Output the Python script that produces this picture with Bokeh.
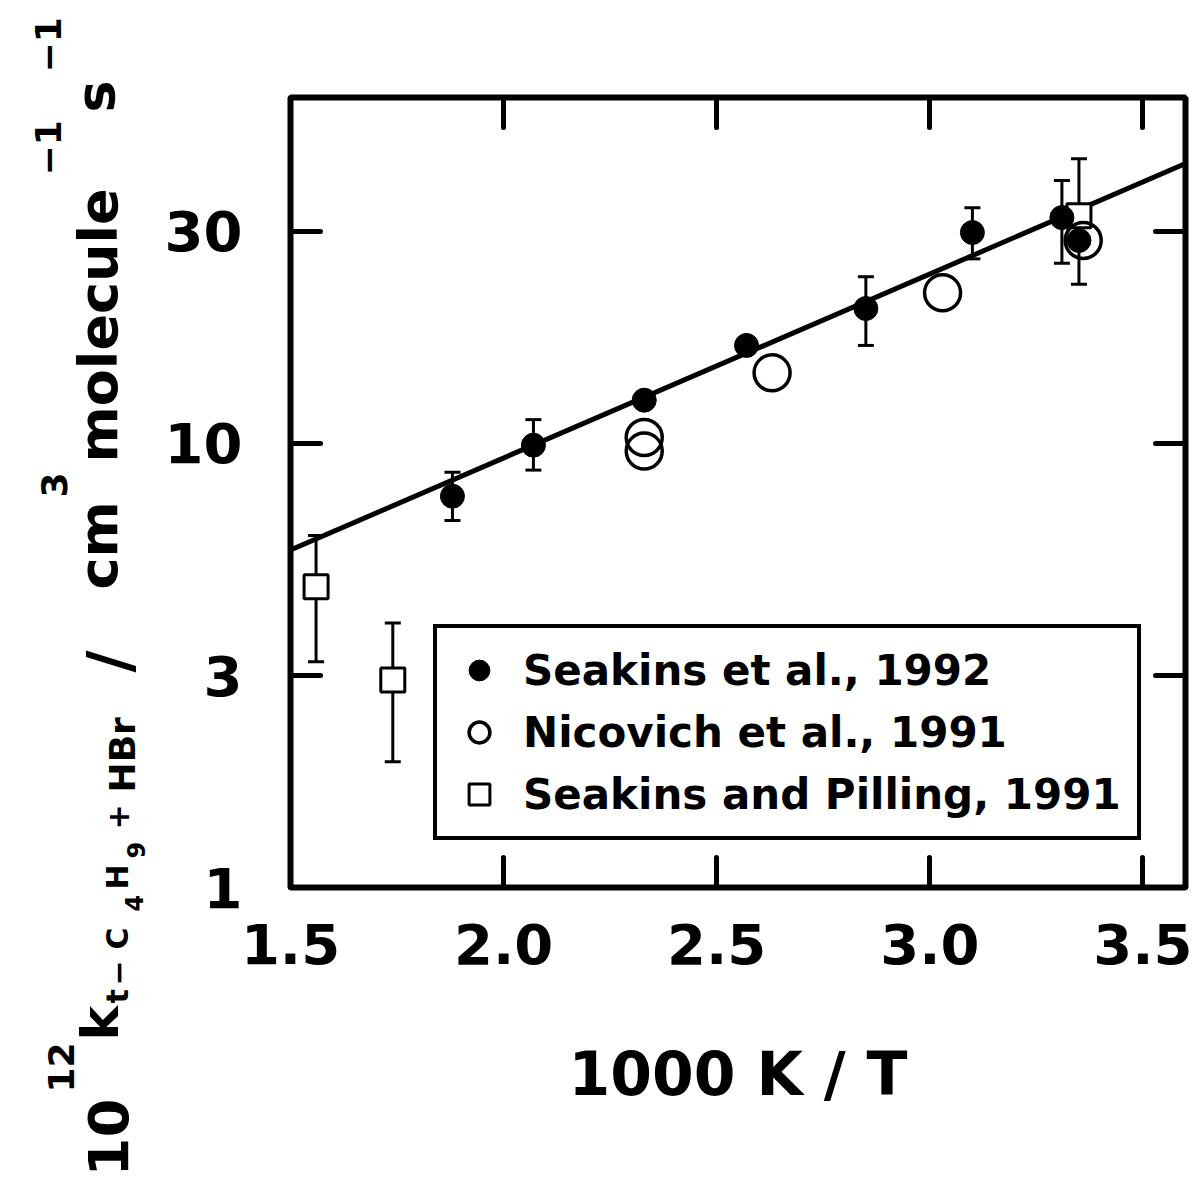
from math import pi
from bokeh.plotting import figure
from bokeh.layouts import row
from bokeh.models import (LinearAxis, LogAxis, FixedTicker, Whisker, TeeHead,
                          ColumnDataSource, Legend, LegendItem, Label)
from bokeh.embed import file_html
from bokeh.resources import INLINE

# ---------------- data ----------------
# Seakins et al., 1992 (filled circles)
seakins92_x = [1.88, 2.07, 2.33, 2.57, 2.85, 3.10, 3.31, 3.35]
seakins92_k = [7.6, 9.9, 12.5, 16.6, 20.1, 29.8, 32.2, 28.6]
seakins92_err_x = [1.88, 2.07, 2.85, 3.10, 3.31]
seakins92_err_lo = [6.7, 8.7, 16.6, 26.0, 25.4]
seakins92_err_hi = [8.6, 11.3, 23.7, 33.9, 39.0]

# Nicovich et al., 1991 (open circles)
nicovich_x = [2.33, 2.33, 2.63, 3.03, 3.36]
nicovich_k = [10.3, 9.6, 14.4, 21.8, 28.6]

# Seakins and Pilling, 1991 (open squares)
sp91_x = [1.56, 1.74, 3.35]
sp91_k = [4.75, 2.93, 32.5]
sp91_lo = [3.22, 1.92, 22.8]
sp91_hi = [6.2, 3.94, 43.7]

# Arrhenius fit line
fit_x = [1.5, 3.6]
fit_k = [5.75, 42.6]

x_ticks = [1.5, 2.0, 2.5, 3.0, 3.5]
x_tick_labels = ["1.5", "2.0", "2.5", "3.0", "3.5"]
y_ticks = [1, 3, 10, 30]
y_tick_labels = ["1", "3", "10", "30"]

legend_labels = ["Seakins et al., 1992", "Nicovich et al., 1991",
                 "Seakins and Pilling, 1991"]
x_label = "1000 K / T"

FONT = "DejaVu Sans"
H = 1182
LW = 150  # width of the strip holding the rotated y label

# ---------------- main figure ----------------
p = figure(frame_width=895, frame_height=790, x_range=(1.5, 3.6), y_range=(1, 60),
           y_axis_type="log", output_backend="svg", toolbar_location=None,
           min_border_left=290 - LW, min_border_top=97, min_border_right=10,
           min_border_bottom=H - 97 - 790, background_fill_color="white",
           border_fill_color="white")
p.frame_align = False
p.outline_line_color = "black"
p.outline_line_width = 6
p.xgrid.grid_line_color = None
p.ygrid.grid_line_color = None


def style_axis(ax, ticks, labels):
    ax.ticker = FixedTicker(ticks=ticks)
    ax.major_label_overrides = {t: s for t, s in zip(ticks, labels)}
    ax.axis_line_color = None
    ax.major_tick_in = 30
    ax.major_tick_out = 0
    ax.major_tick_line_width = 5
    ax.major_tick_line_color = "black"
    ax.major_tick_line_cap = "round"
    ax.minor_tick_line_color = None
    ax.major_label_text_font = FONT
    ax.major_label_text_font_style = "bold"
    ax.major_label_text_color = "black"
    ax.major_label_text_font_size = "56px"


xa = p.xaxis[0]
style_axis(xa, x_ticks, x_tick_labels)
xa.major_label_standoff = 36
xa.axis_label = x_label
xa.axis_label_text_font = FONT
xa.axis_label_text_font_style = "bold"
xa.axis_label_text_font_size = "60px"
xa.axis_label_text_color = "black"
xa.axis_label_standoff = 72

ya = p.yaxis[0]
style_axis(ya, y_ticks, y_tick_labels)
ya.major_label_standoff = 48

# mirrored tick marks on top and right (no labels there)
top = LinearAxis()
style_axis(top, x_ticks, [""] * len(x_ticks))
top.major_label_standoff = 0
p.add_layout(top, "above")
right = LogAxis()
style_axis(right, y_ticks, [""] * len(y_ticks))
right.major_label_standoff = 0
p.add_layout(right, "right")

# ---------------- error bars ----------------
def add_err(xs, lo, hi):
    src = ColumnDataSource(dict(base=xs, lower=lo, upper=hi))
    w = Whisker(source=src, base="base", lower="lower", upper="upper",
                dimension="height", line_width=3, line_color="black",
                upper_head=TeeHead(size=16, line_width=3, line_color="black"),
                lower_head=TeeHead(size=16, line_width=3, line_color="black"),
                level="underlay")
    p.add_layout(w)

add_err(seakins92_err_x, seakins92_err_lo, seakins92_err_hi)
add_err(sp91_x, sp91_lo, sp91_hi)

# ---------------- fit line ----------------
p.line(fit_x, fit_k, line_color="black", line_width=5)

# ---------------- markers ----------------
r_sq = p.scatter(sp91_x, sp91_k, marker="square", size=24, fill_color="white",
                 line_color="black", line_width=3)
r_f = p.scatter(seakins92_x, seakins92_k, marker="circle", size=24,
                fill_color="black", line_color="black", line_width=1)
r_o = p.scatter(nicovich_x, nicovich_k, marker="circle", size=36,
                fill_color=None, line_color="black", line_width=3.5)

legend = Legend(items=[LegendItem(label=legend_labels[0], renderers=[r_f]),
                       LegendItem(label=legend_labels[1], renderers=[r_o]),
                       LegendItem(label=legend_labels[2], renderers=[r_sq])],
                location=(143, 47), border_line_color="black",
                border_line_alpha=1.0, border_line_width=4,
                background_fill_color="white", background_fill_alpha=1.0,
                padding=16, spacing=10, margin=0,
                glyph_width=52, glyph_height=52, label_standoff=18,
                label_text_font=FONT, label_text_font_style="bold",
                label_text_font_size="42px", label_text_color="black")
p.add_layout(legend)

# ---------------- strip with the rotated y-axis label ----------------
lab = figure(width=LW, height=H, output_backend="svg", toolbar_location=None,
             x_axis_location=None, y_axis_location=None, min_border=0,
             x_range=(0, 1), y_range=(0, 1), background_fill_color="white",
             border_fill_color="white")
lab.frame_align = False
lab.outline_line_color = None
lab.xgrid.grid_line_color = None
lab.ygrid.grid_line_color = None

# (text, font px, baseline x on page, start y on page)
pieces = [
    ("10", 56, 107, 1176), ("12", 36, 60, 1092), ("k", 52, 99, 1040),
    ("t", 30, 117, 1003), ("\u2212", 30, 117, 985), ("C", 30, 117, 949),
    ("4", 24, 133, 911), ("H", 30, 117, 889), ("9", 24, 135, 858),
    ("+", 30, 117, 829), ("HBr", 36, 122, 792),
    ("/", 60, 108, 672), ("cm", 54, 98, 589), ("3", 36, 53, 497),
    ("molecule", 54, 98, 462), ("\u22121", 36, 47, 175),
    ("s", 54, 95, 112), ("\u22121", 36, 47, 72),
]
for txt, size, bx, sy in pieces:
    lab.add_layout(Label(x=bx, y=H - sy, x_units="screen", y_units="screen",
                         text=txt, angle=pi / 2, text_font=FONT,
                         text_font_style="bold", text_font_size=f"{size}px",
                         text_color="black", text_align="left",
                         text_baseline="alphabetic"))

layout = row(lab, p)
open("out.html", "w").write(file_html(layout, INLINE))
